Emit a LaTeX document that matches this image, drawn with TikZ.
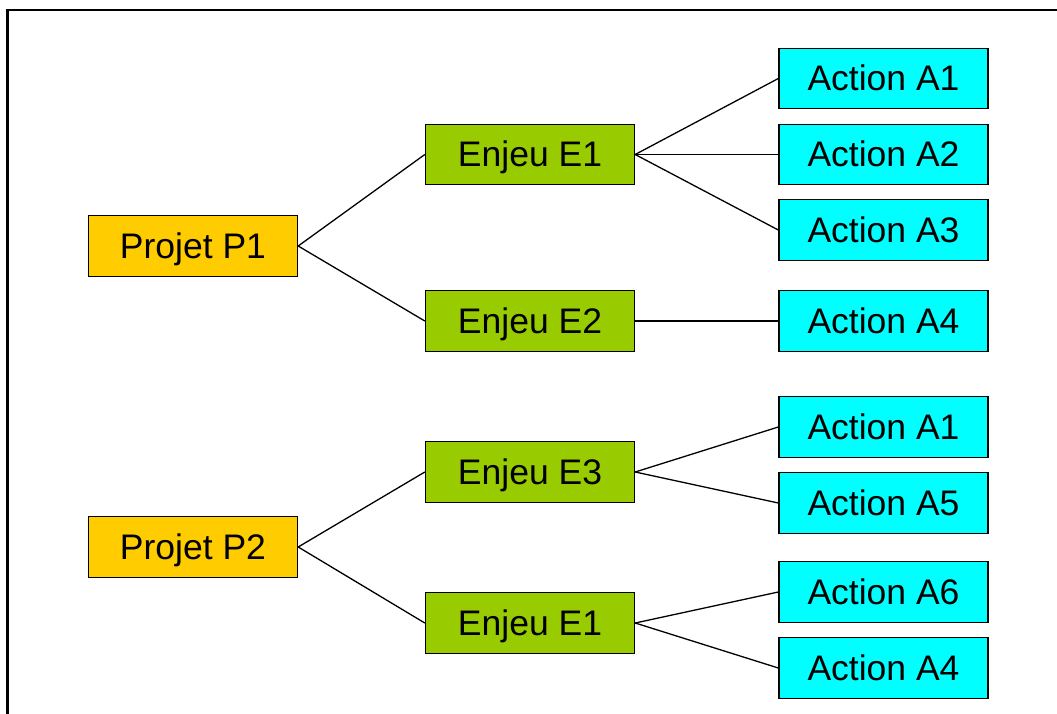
\documentclass[tikz,border=0pt]{standalone}
\usepackage{fontspec}
\setmainfont{Liberation Sans}
\begin{document}
\begin{tikzpicture}[x=1pt,y=-1pt,
  box/.style={draw=black,line width=1.4pt,minimum width=209pt,minimum height=60.5pt,
    inner sep=0pt,text height=25pt,text depth=0pt,
    font=\fontsize{35.5}{38}\selectfont,anchor=center},
  projet/.style={box,fill={rgb,255:red,255;green,204;blue,0}},
  enjeu/.style={box,fill={rgb,255:red,153;green,204;blue,0}},
  action/.style={box,fill={rgb,255:red,0;green,255;blue,255}},
  link/.style={draw=black,line width=1.3pt}]
\useasboundingbox (0,0) rectangle (1057,714);
% frame
\draw[line width=2.6pt,line cap=rect] (7.5,720) -- (7.5,10) -- (1065,10);
% levels
\node[projet] (p1) at (193,246) {Projet P1};
\node[projet] (p2) at (193,547) {Projet P2};
\node[enjeu] (e1) at (530,154.5) {Enjeu E1};
\node[enjeu] (e2) at (530,321) {Enjeu E2};
\node[enjeu] (e3) at (530,472) {Enjeu E3};
\node[enjeu] (e4) at (530,623) {Enjeu E1};
\node[action] (a1) at (883.5,78.5) {Action A1};
\node[action] (a2) at (883.5,154.5) {Action A2};
\node[action] (a3) at (883.5,230) {Action A3};
\node[action] (a4) at (883.5,321) {Action A4};
\node[action] (b1) at (883.5,427) {Action A1};
\node[action] (b5) at (883.5,503) {Action A5};
\node[action] (b6) at (883.5,592) {Action A6};
\node[action] (b4) at (883.5,668) {Action A4};
% connectors
\path[link] (p1.east) -- (e1.west);
\path[link] (p1.east) -- (e2.west);
\path[link] (p2.east) -- (e3.west);
\path[link] (p2.east) -- (e4.west);
\path[link] (e1.east) -- (a1.west);
\path[link] (e1.east) -- (a2.west);
\path[link] (e1.east) -- (a3.west);
\path[link] (e2.east) -- (a4.west);
\path[link] (e3.east) -- (b1.west);
\path[link] (e3.east) -- (b5.west);
\path[link] (e4.east) -- (b6.west);
\path[link] (e4.east) -- (b4.west);
\end{tikzpicture}
\end{document}
